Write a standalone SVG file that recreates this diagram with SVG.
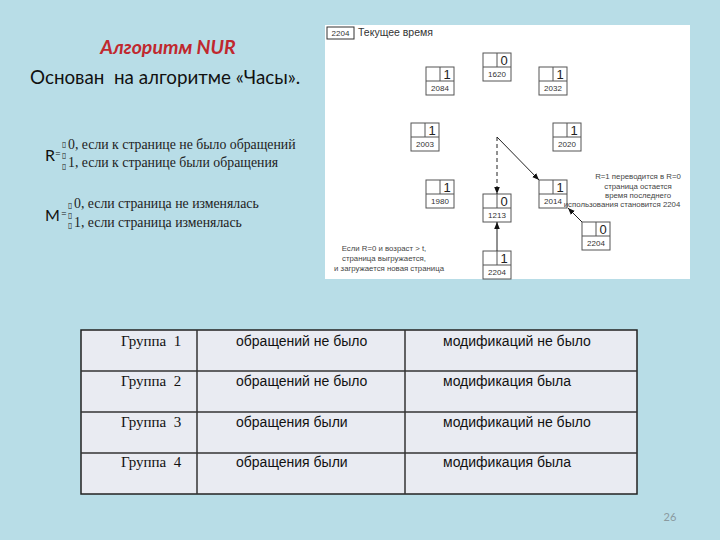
<svg xmlns="http://www.w3.org/2000/svg" width="720" height="540" viewBox="0 0 720 540">
<defs>
<style>
.nd rect{fill:#fff;stroke:#555;stroke-width:1}
.nd line{stroke:#555;stroke-width:1}
.dg{font-family:"Liberation Sans",Arial,sans-serif;font-size:13px;fill:#222;text-anchor:middle}
.nm{font-family:"Liberation Sans",Arial,sans-serif;font-size:8px;fill:#333;text-anchor:middle}
.note{font-family:"Liberation Sans",Arial,sans-serif;font-size:7.8px;fill:#444;text-anchor:middle}
.fm{font-family:"Liberation Serif","Times New Roman",serif;font-size:13.8px;fill:#222}
.bx{font-family:"DejaVu Sans",sans-serif;font-size:8px;fill:#222}
.tc{font-family:"Liberation Sans",Arial,sans-serif;font-size:14px;fill:#111}
.ts{font-family:"Liberation Serif","Times New Roman",serif;font-size:15px;fill:#111}
.cn{stroke:#222;stroke-width:1;fill:none}
</style>
<marker id="ah" viewBox="0 0 10 10" refX="10" refY="5" markerWidth="7" markerHeight="7" orient="auto" markerUnits="userSpaceOnUse"><path d="M0,1 L10,5 L0,9 Z" fill="#111"/></marker>
</defs>
<rect x="0" y="0" width="720" height="540" fill="#b8dde7"/>

<g id="title">
<text x="168" y="54" font-family="Lato,'Open Sans',sans-serif" font-size="19.5" font-weight="bold" font-style="italic" fill="#c0282e" text-anchor="middle">Алгоритм NUR</text>
<text x="30" y="84" font-family="Lato,'Open Sans',sans-serif" font-size="18.8" fill="#111" xml:space="preserve">Основан  на алгоритме «Часы».</text>
</g>

<g id="formula-r">
<text x="45" y="161" font-family="Lato,sans-serif" font-size="16" fill="#111">R</text>
<text x="55" y="157" font-family="Lato,sans-serif" font-size="10" fill="#111">=</text>
<text class="bx" x="62" y="147">▯</text>
<text class="bx" x="62" y="158">▯</text>
<text class="bx" x="62" y="169">▯</text>
<text class="fm" x="68" y="149">0, если к странице не было обращений</text>
<text class="fm" x="68" y="167">1, если к странице были обращения</text>
</g>

<g id="formula-m">
<text x="45" y="221" font-family="Lato,sans-serif" font-size="16" fill="#111">M</text>
<text x="61" y="217" font-family="Lato,sans-serif" font-size="10" fill="#111">=</text>
<text class="bx" x="68" y="208">▯</text>
<text class="bx" x="68" y="218">▯</text>
<text class="bx" x="68" y="228">▯</text>
<text class="fm" x="74" y="208">0, если страница не изменялась</text>
<text class="fm" x="74" y="227">1, если страница изменялась</text>
</g>

<g id="clock-panel">
<rect x="325" y="25" width="365" height="254" fill="#fff"/>
<rect x="327" y="27" width="27" height="12" fill="#fff" stroke="#333" stroke-width="1"/>
<text class="nm" x="340.5" y="36">2204</text>
<text x="358" y="36" font-family="'Liberation Sans',Arial,sans-serif" font-size="10.5" fill="#333">Текущее время</text>
</g>

<g id="n1620" class="nd"><rect x="483" y="53" width="28" height="28"/><line x1="483" y1="67" x2="511" y2="67"/><line x1="497" y1="53" x2="497" y2="67"/><text class="dg" x="504" y="65">0</text><text class="nm" x="497" y="77">1620</text></g>
<g id="n2084" class="nd"><rect x="426" y="67" width="28" height="28"/><line x1="426" y1="81" x2="454" y2="81"/><line x1="440" y1="67" x2="440" y2="81"/><text class="dg" x="447" y="79">1</text><text class="nm" x="440" y="91">2084</text></g>
<g id="n2032" class="nd"><rect x="539" y="67" width="28" height="28"/><line x1="539" y1="81" x2="567" y2="81"/><line x1="553" y1="67" x2="553" y2="81"/><text class="dg" x="560" y="79">1</text><text class="nm" x="553" y="91">2032</text></g>
<g id="n2003" class="nd"><rect x="411" y="123" width="28" height="28"/><line x1="411" y1="137" x2="439" y2="137"/><line x1="425" y1="123" x2="425" y2="137"/><text class="dg" x="432" y="135">1</text><text class="nm" x="425" y="147">2003</text></g>
<g id="n2020" class="nd"><rect x="553" y="123" width="28" height="28"/><line x1="553" y1="137" x2="581" y2="137"/><line x1="567" y1="123" x2="567" y2="137"/><text class="dg" x="574" y="135">1</text><text class="nm" x="567" y="147">2020</text></g>
<g id="n1980" class="nd"><rect x="426" y="180" width="28" height="28"/><line x1="426" y1="194" x2="454" y2="194"/><line x1="440" y1="180" x2="440" y2="194"/><text class="dg" x="447" y="192">1</text><text class="nm" x="440" y="204">1980</text></g>
<g id="n2014" class="nd"><rect x="539" y="180" width="28" height="28"/><line x1="539" y1="194" x2="567" y2="194"/><line x1="553" y1="180" x2="553" y2="194"/><text class="dg" x="560" y="192">1</text><text class="nm" x="553" y="204">2014</text></g>
<g id="n1213" class="nd"><rect x="483" y="194" width="28" height="28"/><line x1="483" y1="208" x2="511" y2="208"/><line x1="497" y1="194" x2="497" y2="208"/><text class="dg" x="504" y="206">0</text><text class="nm" x="497" y="218">1213</text></g>
<g id="n2204new" class="nd"><rect x="483" y="251" width="28" height="28"/><line x1="483" y1="265" x2="511" y2="265"/><line x1="497" y1="251" x2="497" y2="265"/><text class="dg" x="504" y="263">1</text><text class="nm" x="497" y="275">2204</text></g>
<g id="n2204r" class="nd"><rect x="582" y="222" width="28" height="28"/><line x1="582" y1="236" x2="610" y2="236"/><line x1="596" y1="222" x2="596" y2="236"/><text class="dg" x="603" y="234">0</text><text class="nm" x="596" y="246">2204</text></g>

<g id="connectors">
<line class="cn" x1="497" y1="137" x2="497" y2="194" stroke-dasharray="4,3" marker-end="url(#ah)"/>
<line class="cn" x1="497" y1="137" x2="539" y2="180" marker-end="url(#ah)"/>
<line class="cn" x1="497" y1="251" x2="497" y2="222" marker-end="url(#ah)"/>
<line class="cn" x1="582" y1="222" x2="568" y2="208" marker-end="url(#ah)"/>
</g>

<g id="notes">
<text class="note" x="638" y="179">R=1 переводится в R=0</text>
<text class="note" x="638" y="189">страница остается</text>
<text class="note" x="638" y="198">время последнего</text>
<text class="note" x="622" y="207">использования становится 2204</text>
<text class="note" x="384" y="251">Если R=0 и возраст &gt; t,</text>
<text class="note" x="384" y="261">страница выгружается,</text>
<text class="note" x="389" y="271">и загружается новая страница</text>
</g>

<g id="table">
<rect x="81" y="330" width="556" height="164" fill="#e9ebf2" stroke="#222" stroke-width="1.5"/>
<line x1="81" y1="371" x2="637" y2="371" stroke="#333" stroke-width="1.5"/>
<line x1="81" y1="412" x2="637" y2="412" stroke="#333" stroke-width="1.5"/>
<line x1="81" y1="453" x2="637" y2="453" stroke="#333" stroke-width="1.5"/>
<line x1="197" y1="330" x2="197" y2="494" stroke="#333" stroke-width="1.5"/>
<line x1="405" y1="330" x2="405" y2="494" stroke="#333" stroke-width="1.5"/>
<text class="ts" x="121" y="346" xml:space="preserve">Группа  1</text>
<text class="tc" x="236" y="346">обращений не было</text>
<text class="tc" x="443" y="346">модификаций не было</text>
<text class="ts" x="121" y="386" xml:space="preserve">Группа  2</text>
<text class="tc" x="236" y="386">обращений не было</text>
<text class="tc" x="443" y="386">модификация была</text>
<text class="ts" x="121" y="427" xml:space="preserve">Группа  3</text>
<text class="tc" x="236" y="427">обращения были</text>
<text class="tc" x="443" y="427">модификаций не было</text>
<text class="ts" x="121" y="467" xml:space="preserve">Группа  4</text>
<text class="tc" x="236" y="467">обращения были</text>
<text class="tc" x="443" y="467">модификация была</text>
</g>

<text x="670" y="521" font-family="Lato,sans-serif" font-size="11" fill="#8a9aa0" text-anchor="middle">26</text>
</svg>
